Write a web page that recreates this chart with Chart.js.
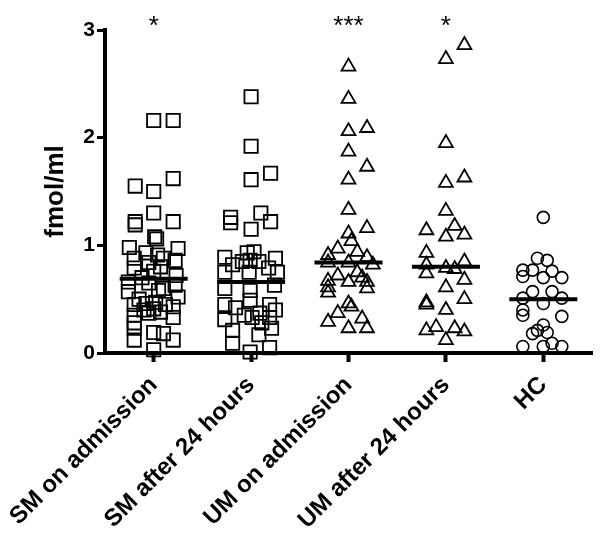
<!DOCTYPE html>
<html>
<head>
<meta charset="utf-8">
<script src="https://cdn.jsdelivr.net/npm/chart.js@4.4.1/dist/chart.umd.min.js"></script>
<style>
  html, body { margin: 0; padding: 0; background: #fff; }
  #wrap { width: 600px; height: 535px; }
</style>
</head>
<body>
<div id="wrap"><canvas id="dotPlot"></canvas></div>
<script>
// groups on the x axis
var categories = ['SM on admission', 'SM after 24 hours', 'UM on admission', 'UM after 24 hours', 'HC'];
var significance = ['*', '', '***', '*', ''];
var medians = [0.69, 0.66, 0.84, 0.80, 0.50];
var yTicks = [0, 1, 2, 3];

// fmol/ml values per group, with the horizontal scatter (in group units)
var smAdmValues = [2.16, 2.16, 1.62, 1.55, 1.50, 1.30, 1.22, 1.19, 1.22, 1.08, 1.06, 0.98, 0.97, 0.93, 0.91, 0.88, 0.88, 0.86, 0.84, 0.80,
    0.79, 0.76, 0.72, 0.70, 0.66, 0.65, 0.63, 0.60, 0.57, 0.58, 0.52, 0.50, 0.47, 0.46, 0.45, 0.45, 0.43, 0.41, 0.40, 0.38,
    0.37, 0.35, 0.33, 0.28, 0.23, 0.19, 0.18, 0.12, 0.12, 0.03];
var smAdmJitter = [0, 0.2, 0.2, -0.19, 0, 0, -0.19, -0.19, 0.2, 0.01, 0.03, -0.25, 0.25, -0.08, 0.04, 0.1, -0.2, 0.22, -0.05, 0.07,
    -0.2, 0, 0.23, -0.12, -0.26, -0.05, 0.22, 0.1, -0.26, 0.05, 0.25, -0.15, 0.02, -0.08, -0.2, 0.12, 0.2, 0, -0.1, 0.07,
    -0.05, -0.2, 0.2, -0.2, -0.2, 0, 0.1, -0.2, 0.2, 0];

var smDayValues = [2.38, 1.92, 1.67, 1.61, 1.30, 1.26, 1.21, 1.22, 1.15, 0.89, 0.93, 0.94, 0.88, 0.82, 0.85, 0.86, 0.85, 0.79, 0.75, 0.75,
    0.75, 0.60, 0.58, 0.63, 0.49, 0.45, 0.42, 0.45, 0.40, 0.35, 0.33, 0.37, 0.33, 0.31, 0.28, 0.21, 0.23, 0.17, 0.09, 0.01, 0.05];
var smDayJitter = [0, 0, 0.2, 0, 0.1, -0.21, -0.21, 0.2, 0, -0.27, -0.04, 0.03, 0.25, -0.19, -0.09, -0.01, 0.08, 0.18, 0.27, -0.27,
    -0.02, -0.27, -0.01, 0.24, -0.01, -0.27, -0.16, 0.19, 0.25, -0.07, 0.01, 0.09, 0.19, -0.27, 0.11, -0.19, 0.21, 0.08, -0.19, -0.01, 0.19];

var umAdmValues = [2.66, 2.36, 2.06, 2.09, 1.87, 1.73, 1.61, 1.33, 1.16, 1.11, 1.04, 0.97, 0.94, 0.91, 0.89, 0.82, 0.84, 0.84, 0.72, 0.75,
    0.70, 0.67, 0.61, 0.56, 0.66, 0.60, 0.66, 0.46, 0.43, 0.37, 0.29, 0.32, 0.23, 0.23];
var umAdmJitter = [0, 0, 0, 0.19, 0, 0.19, 0, 0, 0.19, 0, 0.03, -0.11, 0.09, -0.21, 0.19, 0.25, -0.21, 0, -0.11, 0.09,
    0.14, -0.21, -0.21, -0.21, 0.19, 0.19, 0, 0, 0.03, -0.11, -0.21, 0.14, 0, 0.19];

var umDayValues = [2.86, 2.73, 1.95, 1.63, 1.58, 1.32, 1.18, 1.14, 1.08, 1.10, 0.93, 0.82, 0.74, 0.79, 0.78, 0.85, 0.68, 0.61, 0.47, 0.45,
    0.50, 0.40, 0.21, 0.24, 0.23, 0.20, 0.12];
var umDayJitter = [0.19, 0, 0, 0.19, 0, 0, 0.09, -0.2, 0, 0.19, -0.2, -0.2, -0.2, 0, 0.09, 0.19, 0.19, 0, -0.2, -0.2,
    0.19, 0, -0.2, -0.1, 0.09, 0.19, 0];

var hcValues = [1.26, 0.88, 0.86, 0.77, 0.77, 0.76, 0.71, 0.70, 0.70, 0.57, 0.57, 0.51, 0.46, 0.51, 0.40, 0.35, 0.34, 0.26, 0.19, 0.18,
    0.21, 0.06, 0.06, 0.09, 0.06];
var hcJitter = [0, -0.06, 0.04, -0.21, -0.11, 0.09, -0.21, 0, 0.19, -0.11, 0.09, -0.21, 0, 0.19, -0.21, -0.21, 0.19, 0, 0.04, -0.11,
    -0.06, -0.21, 0, 0.09, 0.19];

function groupPoints(groupIndex, values, jitter) {
    return values.map(function (v, i) {
        return { x: groupIndex + jitter[i], y: v };
    });
}

var hollow = 'rgba(0,0,0,0)';
var font = '"Liberation Sans", Arial, sans-serif';

// asterisks above the groups
var starPlugin = {
    id: 'stars',
    afterDatasetsDraw: function (chart) {
        var ctx = chart.ctx;
        var xs = chart.scales.x;
        var ys = chart.scales.y;
        ctx.save();
        ctx.fillStyle = '#000';
        ctx.font = '26px ' + font;
        ctx.textAlign = 'center';
        ctx.textBaseline = 'alphabetic';
        significance.forEach(function (s, i) {
            if (s) ctx.fillText(s, xs.getPixelForValue(i), ys.getPixelForValue(3) + 4);
        });
        ctx.restore();
    }
};

new Chart(document.getElementById('dotPlot'), {
    type: 'scatter',
    data: {
        datasets: [
            {
                label: 'median',
                data: medians.map(function (m, i) { return { x: i, y: m }; }),
                pointStyle: 'line',
                pointRadius: 34,
                borderWidth: 4,
                borderColor: '#000',
                order: 0
            },
            {
                label: categories[0],
                data: groupPoints(0, smAdmValues, smAdmJitter),
                pointStyle: 'rect',
                pointRadius: 9.4,
                borderWidth: 1.8,
                borderColor: '#000',
                backgroundColor: hollow,
                order: 1
            },
            {
                label: categories[1],
                data: groupPoints(1, smDayValues, smDayJitter),
                pointStyle: 'rect',
                pointRadius: 9.4,
                borderWidth: 1.8,
                borderColor: '#000',
                backgroundColor: hollow,
                order: 1
            },
            {
                label: categories[2],
                data: groupPoints(2, umAdmValues, umAdmJitter),
                pointStyle: 'triangle',
                pointRadius: 8,
                borderWidth: 1.8,
                borderColor: '#000',
                backgroundColor: hollow,
                order: 1
            },
            {
                label: categories[3],
                data: groupPoints(3, umDayValues, umDayJitter),
                pointStyle: 'triangle',
                pointRadius: 8,
                borderWidth: 1.8,
                borderColor: '#000',
                backgroundColor: hollow,
                order: 1
            },
            {
                label: categories[4],
                data: groupPoints(4, hcValues, hcJitter),
                pointStyle: 'circle',
                pointRadius: 6,
                borderWidth: 1.6,
                borderColor: '#000',
                backgroundColor: hollow,
                order: 1
            }
        ]
    },
    options: {
        responsive: true,
        maintainAspectRatio: false,
        animation: false,
        events: [],
        clip: false,
        layout: { autoPadding: false, padding: { top: 30, right: 8, left: 0, bottom: 0 } },
        plugins: {
            legend: { display: false },
            tooltip: { enabled: false }
        },
        scales: {
            x: {
                type: 'linear',
                min: -0.5,
                max: 4.5,
                afterBuildTicks: function (scale) {
                    scale.ticks = categories.map(function (c, i) { return { value: i }; });
                },
                afterFit: function (scale) {
                    scale.height = 182;
                    scale.paddingLeft = 0;
                    scale.paddingRight = 0;
                },
                border: { display: true, color: '#000', width: 4 },
                grid: { drawOnChartArea: false, drawTicks: true, tickLength: 9, tickWidth: 4, tickColor: '#000' },
                ticks: {
                    autoSkip: false,
                    minRotation: 45,
                    maxRotation: 45,
                    padding: 9,
                    color: '#000',
                    font: { family: font, size: 24, weight: 'bold' },
                    callback: function (value) { return categories[value]; }
                }
            },
            y: {
                min: 0,
                max: 3,
                afterBuildTicks: function (scale) {
                    scale.ticks = yTicks.map(function (v) { return { value: v }; });
                },
                afterFit: function (scale) {
                    scale.width = 105;
                    scale.paddingTop = 0;
                    scale.paddingBottom = 0;
                },
                border: { display: true, color: '#000', width: 4 },
                grid: { drawOnChartArea: false, drawTicks: true, tickLength: 8, tickWidth: 3, tickColor: '#000' },
                ticks: {
                    padding: 2,
                    color: '#000',
                    font: { family: font, size: 21, weight: 'bold' }
                },
                title: {
                    display: true,
                    text: 'fmol/ml',
                    color: '#000',
                    padding: { top: 40, bottom: 0 },
                    font: { family: font, size: 26, weight: 'bold' }
                }
            }
        }
    },
    plugins: [starPlugin]
});
</script>
</body>
</html>
